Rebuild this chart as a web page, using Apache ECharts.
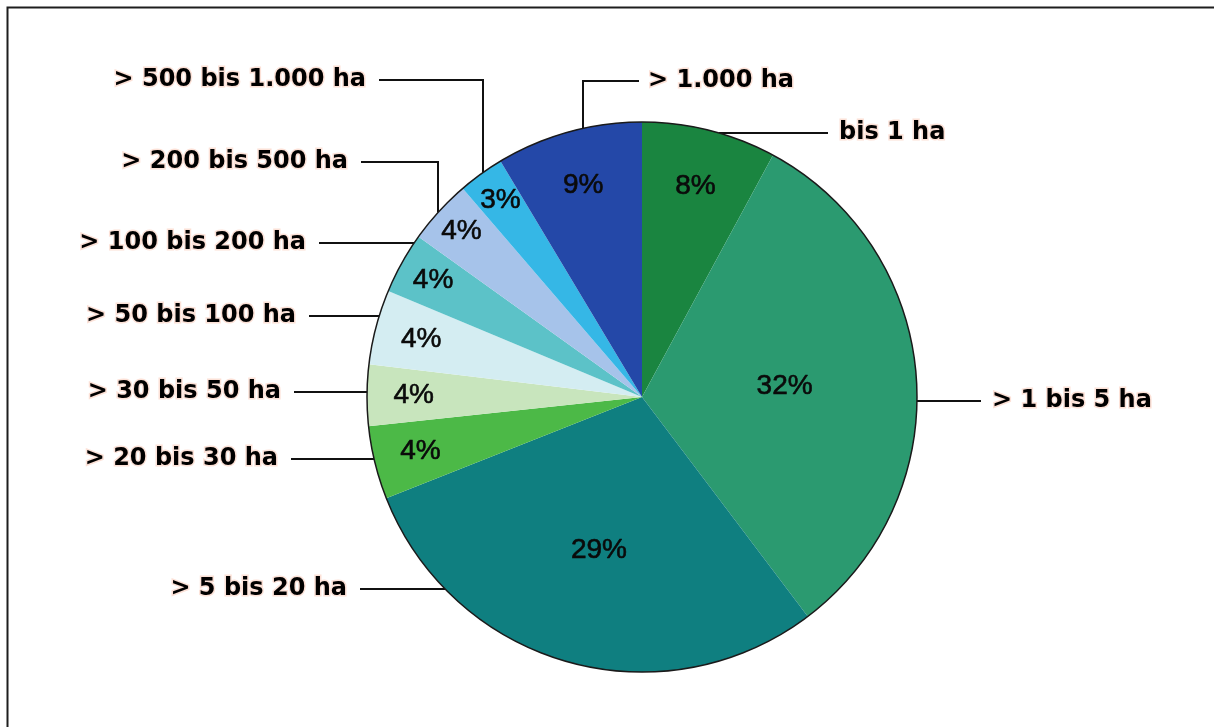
<!DOCTYPE html>
<html>
<head>
<meta charset="utf-8">
<script src="https://cdn.jsdelivr.net/npm/echarts@6/dist/echarts.min.js"></script>
<style>
html,body{margin:0;padding:0;background:#ffffff;}
#chart{width:1214px;height:727px;}
</style>
</head>
<body>
<div id="chart"></div>
<script>
// ---- data ----
const categories = ['bis 1 ha', '> 1 bis 5 ha', '> 5 bis 20 ha', '> 20 bis 30 ha', '> 30 bis 50 ha',
  '> 50 bis 100 ha', '> 100 bis 200 ha', '> 200 bis 500 ha', '> 500 bis 1.000 ha', '> 1.000 ha'];
const shares = [7.9, 31.8, 29.3, 4.3, 3.6, 4.4, 3.6, 3.8, 2.7, 8.6];
const sliceColors = ['#1a8540', '#2b9a70', '#0f7f80', '#4cb947', '#c8e5bd',
  '#d4edf2', '#5cc2c8', '#a6c3ea', '#35b7e6', '#2448a8'];

// ---- layout (geometry of pie and annotation placement) ----
const CX = 642, CY = 397, R = 275;
const innerLabelRadius = [0.79, 0.52, 0.58, 0.83, 0.83, 0.83, 0.87, 0.89, 0.88, 0.80];
const outerLabels = [
  {side: 'right', x: 839, y: 133},
  {side: 'right', x: 992, y: 401},
  {side: 'left',  x: 347, y: 589},
  {side: 'left',  x: 278, y: 459},
  {side: 'left',  x: 281, y: 392},
  {side: 'left',  x: 296, y: 316},
  {side: 'left',  x: 306, y: 243},
  {side: 'left',  x: 348, y: 162, elbowX: 438},
  {side: 'left',  x: 366, y: 80,  elbowX: 483},
  {side: 'right', x: 648, y: 81,  elbowX: 583, elbowLeft: true}
];
const GAP = 13;

const total = shares.reduce((a, b) => a + b, 0);
const midAngles = [];
(function () {
  let cum = 0;
  shares.forEach(v => { midAngles.push((cum + v / 2) / total * 2 * Math.PI); cum += v; });
})();
function circleX(y, dir) { const dy = y - CY; return CX + dir * Math.sqrt(Math.max(0, R * R - dy * dy)); }
function circleY(x) { const dx = x - CX; return CY - Math.sqrt(Math.max(0, R * R - dx * dx)); }

const pieData = categories.map((c, i) => ({name: c, value: shares[i], itemStyle: {color: sliceColors[i]}}));
const overlayData = categories.map((c, i) => ({name: c, value: shares[i]}));

const chart = echarts.init(document.getElementById('chart'), null, {renderer: 'canvas'});
chart.setOption({
  animation: false,
  backgroundColor: '#ffffff',
  graphic: [{
    type: 'rect', left: 5, top: 5, silent: true,
    shape: {width: 1400, height: 900},
    style: {fill: 'none', stroke: '#1e1e1e', lineWidth: 2}
  }],
  series: [
    {
      type: 'pie',
      center: [CX, CY],
      radius: R,
      startAngle: 90,
      clockwise: true,
      silent: true,
      data: pieData,
      itemStyle: {borderWidth: 0},
      emphasis: {disabled: true},
      label: {
        show: true,
        position: 'inside',
        formatter: p => Math.round(p.percent) + '%',
        fontFamily: 'Liberation Sans, Arial, sans-serif',
        fontSize: 28,
        color: '#0a0a0a',
        textBorderColor: '#0a0a0a',
        textBorderWidth: 0.6
      },
      labelLine: {show: false},
      labelLayout: function (p) {
        const i = p.dataIndex;
        const a = midAngles[i], r = R * innerLabelRadius[i];
        return {x: CX + r * Math.sin(a), y: CY - r * Math.cos(a), align: 'center', verticalAlign: 'middle'};
      }
    },
    {
      type: 'pie',
      center: [CX, CY],
      radius: R,
      startAngle: 90,
      clockwise: true,
      silent: true,
      data: overlayData,
      itemStyle: {color: 'rgba(0,0,0,0)', borderWidth: 0},
      emphasis: {disabled: true},
      avoidLabelOverlap: false,
      label: {
        show: true,
        position: 'outside',
        formatter: '{b}',
        fontFamily: 'DejaVu Sans, sans-serif',
        fontWeight: 'bold',
        fontSize: 24,
        color: '#000000',
        textBorderColor: 'rgba(245,170,140,0.35)',
        textBorderWidth: 3
      },
      labelLine: {show: true, length: 10, length2: 10, lineStyle: {color: '#111111', width: 2}},
      labelLayout: function (p) {
        const L = outerLabels[p.dataIndex];
        let pts;
        if (L.elbowX != null) {
          const start = L.elbowLeft ? L.x - GAP + 4 : L.x + GAP;
          pts = [[start, L.y], [L.elbowX, L.y], [L.elbowX, circleY(L.elbowX)]];
        } else if (L.side === 'left') {
          const cx0 = circleX(L.y, -1), ex = L.x + GAP;
          pts = [[cx0, L.y], [(cx0 + ex) / 2, L.y], [ex, L.y]];
        } else {
          const cx0 = circleX(L.y, 1), ex = L.x - GAP + 2;
          pts = [[cx0, L.y], [(cx0 + ex) / 2, L.y], [ex, L.y]];
        }
        return {
          x: L.x, y: L.y,
          align: L.side === 'left' ? 'right' : 'left',
          verticalAlign: 'middle',
          labelLinePoints: pts
        };
      }
    },
    {
      type: 'pie',
      center: [CX, CY],
      radius: R,
      silent: true,
      data: [{name: 'outline', value: 1}],
      itemStyle: {color: 'rgba(0,0,0,0)', borderColor: '#1a1a1a', borderWidth: 1.5},
      emphasis: {disabled: true},
      label: {show: false},
      labelLine: {show: false}
    }
  ]
});
</script>
</body>
</html>
